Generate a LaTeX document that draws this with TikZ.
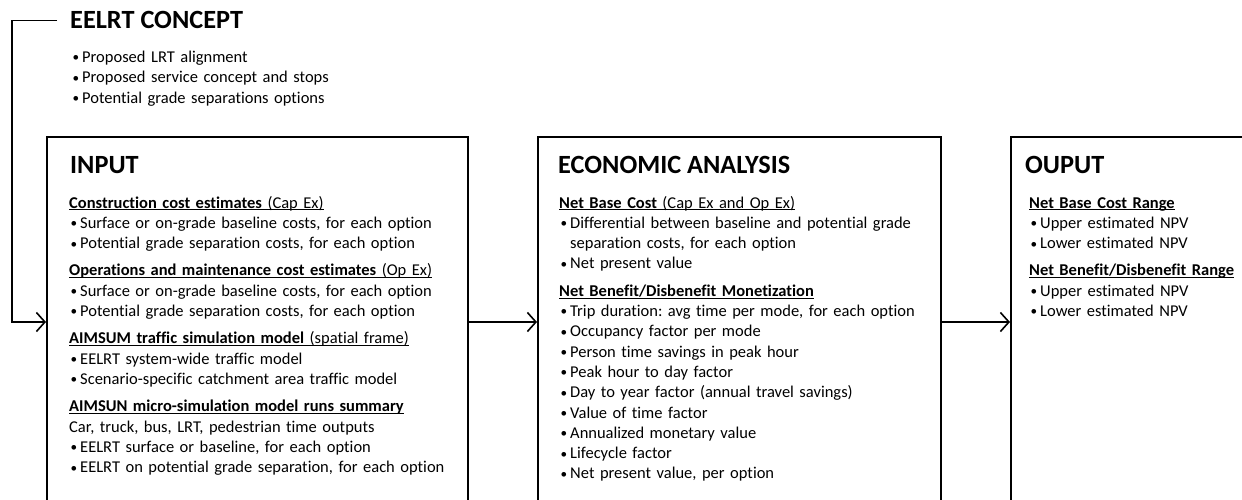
\documentclass[tikz,border=0pt]{standalone}
\usepackage{fontspec}
\setmainfont{Carlito}[Ligatures=NoCommon]
\usetikzlibrary{arrows.meta}

% underlined heading line (bold heading plus its note)
\newcommand\hd[1]{\leavevmode{\setbox0\hbox{#1}\rlap{\rule[-2.4pt]{\wd0}{1.1pt}}\box0}\par}
% bullet line
\newcommand\bl[1]{\leavevmode\hspace*{1.5pt}\makebox[9.5pt][l]{\raisebox{0.6pt}{\scalebox{0.8}{•}}}#1\par}
% continuation of a bullet line
\newcommand\ct[1]{\leavevmode\hspace*{11pt}#1\par}
% plain line
\newcommand\pl[1]{\leavevmode#1\par}
% gap before a new group
\newcommand\grp{\vspace{7pt}}

\begin{document}
\begin{tikzpicture}[x=1pt,y=-1pt,
  box/.style={draw, line width=1.6pt, rectangle, inner sep=0pt, anchor=north west},
  ttl/.style={anchor=base west, inner sep=0pt, font=\fontsize{26.3}{30}\selectfont\bfseries},
  body/.style={anchor=base west, inner sep=0pt, text width=420pt, align=left,
    font=\fontsize{16.5}{20.3}\selectfont\frenchspacing\setlength\parindent{0pt}},
  flow/.style={line width=1.6pt, -{Straight Barb[length=8.5pt,width=19pt]}}]
\useasboundingbox (0,0) rectangle (1242,500);
\clip (0,0) rectangle (1242,500);

% concept block
\node[ttl] (concept) at (70,29) {EELRT CONCEPT};
\node[body] (concepttxt) at (71,62.5) {%
  \bl{Proposed LRT alignment}%
  \bl{Proposed service concept and stops}%
  \bl{Potential grade separations options}};

% boxes
\node[box, minimum width=421pt, minimum height=420pt] (inp) at (46,136) {};
\node[box, minimum width=403pt, minimum height=420pt] (eco) at (537,136) {};
\node[box, minimum width=300pt, minimum height=420pt] (out) at (1010,136) {};

% input
\node[ttl] (inptitle) at (70,173) {INPUT};
\node[body] (inptxt) at (69,208) {%
  \hd{\textbf{Construction cost estimates} (Cap Ex)}%
  \bl{Surface or on-grade baseline costs, for each option}%
  \bl{Potential grade separation costs, for each option}%
  \grp\hd{\textbf{Operations and maintenance cost estimates} (Op Ex)}%
  \bl{Surface or on-grade baseline costs, for each option}%
  \bl{Potential grade separation costs, for each option}%
  \grp\hd{\textbf{AIMSUM traffic simulation model} (spatial frame)}%
  \bl{EELRT system-wide traffic model}%
  \bl{Scenario-specific catchment area traffic model}%
  \grp\hd{\textbf{AIMSUN micro-simulation model runs summary}}%
  \pl{Car, truck, bus, LRT, pedestrian time outputs}%
  \bl{EELRT surface or baseline, for each option}%
  \bl{EELRT on potential grade separation, for each option}};

% economic analysis
\node[ttl] (ecotitle) at (558,173) {ECONOMIC ANALYSIS};
\node[body] (ecotxt) at (559,208) {%
  \hd{\textbf{Net Base Cost} (Cap Ex and Op Ex)}%
  \bl{Differential between baseline and potential grade}%
  \ct{separation costs, for each option}%
  \bl{Net present value}%
  \grp\hd{\textbf{Net Benefit/Disbenefit Monetization}}%
  \bl{Trip duration: avg time per mode, for each option}%
  \bl{Occupancy factor per mode}%
  \bl{Person time savings in peak hour}%
  \bl{Peak hour to day factor}%
  \bl{Day to year factor (annual travel savings)}%
  \bl{Value of time factor}%
  \bl{Annualized monetary value}%
  \bl{Lifecycle factor}%
  \bl{Net present value, per option}};

% output
\node[ttl] (outtitle) at (1025,173) {OUPUT};
\node[body] (outtxt) at (1029,208) {%
  \hd{\textbf{Net Base Cost Range}}%
  \bl{Upper estimated NPV}%
  \bl{Lower estimated NPV}%
  \grp\hd{\textbf{Net Benefit/Disbenefit Range}}%
  \bl{Upper estimated NPV}%
  \bl{Lower estimated NPV}};

% connectors
\coordinate (lvl) at (0,322);
\draw[flow] ([xshift=-13pt]concept.west) -- ([xshift=-58pt]concept.west) |- (inp.west |- lvl);
\draw[flow] (inp.east |- lvl) -- (eco.west |- lvl);
\draw[flow] (eco.east |- lvl) -- (out.west |- lvl);
\end{tikzpicture}
\end{document}
